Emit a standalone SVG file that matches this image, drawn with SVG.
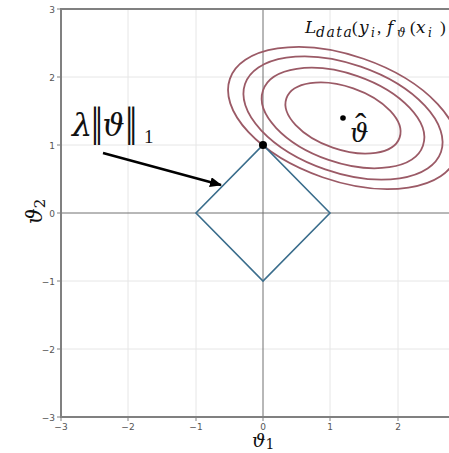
<svg xmlns="http://www.w3.org/2000/svg" width="449" height="453" viewBox="0 0 449 453">
<defs>
<style>
.grid{stroke:#e6e6e6;stroke-width:1;fill:none}
.zero{stroke:#707070;stroke-width:1;fill:none}
.spine{stroke:#808080;stroke-width:2;fill:none}
.tick{stroke:#808080;stroke-width:1}
.tl{font-family:"DejaVu Sans",sans-serif;font-size:9px;fill:#555}
.contour{fill:none;stroke:#9b5a66;stroke-width:1.8}
.math{font-family:"DejaVu Serif","Liberation Serif",serif;fill:#111}
.it{font-style:italic}
.up{font-family:"Liberation Serif","DejaVu Serif",serif;font-style:normal}
</style>
<marker id="ah" viewBox="0 0 12 10" refX="11" refY="5" markerWidth="12" markerHeight="10" markerUnits="userSpaceOnUse" orient="auto">
<path d="M0,0 L12,5 L0,10 Z" fill="#000"/>
</marker>
</defs>
<rect width="449" height="453" fill="#fff"/>
<g id="grid">
<line class="grid" x1="128" y1="9" x2="128" y2="417"/>
<line class="grid" x1="196" y1="9" x2="196" y2="417"/>
<line class="grid" x1="330" y1="9" x2="330" y2="417"/>
<line class="grid" x1="398" y1="9" x2="398" y2="417"/>
<line class="grid" x1="61" y1="77" x2="449" y2="77"/>
<line class="grid" x1="61" y1="145" x2="449" y2="145"/>
<line class="grid" x1="61" y1="281" x2="449" y2="281"/>
<line class="grid" x1="61" y1="349" x2="449" y2="349"/>
<line class="zero" x1="263" y1="9" x2="263" y2="417"/>
<line class="zero" x1="61" y1="213" x2="449" y2="213"/>
</g>
<g id="axes">
<polyline class="spine" points="449,9 61,9 61,417 449,417"/>
<g class="tick">
<line x1="57" y1="9" x2="61" y2="9"/><line x1="57" y1="77" x2="61" y2="77"/><line x1="57" y1="145" x2="61" y2="145"/><line x1="57" y1="213" x2="61" y2="213"/><line x1="57" y1="281" x2="61" y2="281"/><line x1="57" y1="349" x2="61" y2="349"/><line x1="57" y1="417" x2="61" y2="417"/>
<line x1="61" y1="417" x2="61" y2="421"/><line x1="128" y1="417" x2="128" y2="421"/><line x1="196" y1="417" x2="196" y2="421"/><line x1="263" y1="417" x2="263" y2="421"/><line x1="330" y1="417" x2="330" y2="421"/><line x1="398" y1="417" x2="398" y2="421"/>
</g>
<g class="tl" text-anchor="end">
<text x="55" y="13">3</text><text x="55" y="81">2</text><text x="55" y="149">1</text><text x="55" y="217">0</text><text x="55" y="285">−1</text><text x="55" y="353">−2</text><text x="55" y="421">−3</text>
</g>
<g class="tl" text-anchor="middle">
<text x="61" y="430">−3</text><text x="128" y="430">−2</text><text x="196" y="430">−1</text><text x="263" y="430">0</text><text x="330" y="430">1</text><text x="398" y="430">2</text>
</g>
<text class="math it" x="252" y="447" font-size="19">ϑ<tspan font-size="14" font-style="normal" dy="2">1</tspan></text>
<text class="math it" transform="translate(42,224) rotate(-90)" font-size="22">ϑ<tspan font-size="15" font-style="normal" dy="3">2</tspan></text>
</g>
<g id="loss-contours" transform="translate(343,118) rotate(19.1)">
<ellipse class="contour" cx="0" cy="0" rx="59.9" ry="31.4"/>
<ellipse class="contour" cx="0" cy="0" rx="84.6" ry="44.3"/>
<ellipse class="contour" cx="0" cy="0" rx="103.7" ry="54.3"/>
<ellipse class="contour" cx="0" cy="0" rx="119.7" ry="62.7"/>
</g>
<g id="l1-ball">
<polygon points="330,213 263,145 196,213 263,281" fill="none" stroke="#3a6d8c" stroke-width="1.6"/>
</g>
<g id="solution-point">
<circle cx="263" cy="145" r="4" fill="#000"/>
</g>
<g id="theta-hat">
<circle cx="343" cy="118" r="2.8" fill="#000"/>
<text class="math it" x="350" y="142" font-size="26">ϑ<tspan class="up" x="355" y="137" font-size="34">ˆ</tspan></text>
</g>
<g id="labels">
<text class="math" x="72" y="136" font-size="32"><tspan class="it">λ</tspan><tspan class="up" x="90.8" font-size="42" letter-spacing="-4.4">||</tspan><tspan class="it" x="102.5" font-size="31">ϑ</tspan><tspan class="up" x="125" font-size="42" letter-spacing="-4.4">||</tspan><tspan class="up" x="144" y="143" font-size="19">1</tspan></text>
<text class="math" x="305" y="33" font-size="17"><tspan class="it">L</tspan><tspan class="it" x="316" y="37" font-size="14" letter-spacing="1.5">data</tspan><tspan class="up" x="352" y="33">(</tspan><tspan class="it" x="359">y</tspan><tspan class="it" x="371" y="37" font-size="12">i</tspan><tspan class="up" x="377" y="33">,</tspan><tspan class="it" x="387">f</tspan><tspan class="it" x="397" y="37" font-size="12">ϑ</tspan><tspan class="up" x="410" y="33">(</tspan><tspan class="it" x="416">x</tspan><tspan class="it" x="428" y="37" font-size="12">i</tspan><tspan class="up" x="440" y="33">)</tspan></text>
</g>
<g id="connectors">
<line x1="103" y1="153" x2="221" y2="185" stroke="#000" stroke-width="2.6" marker-end="url(#ah)"/>
</g>
</svg>
